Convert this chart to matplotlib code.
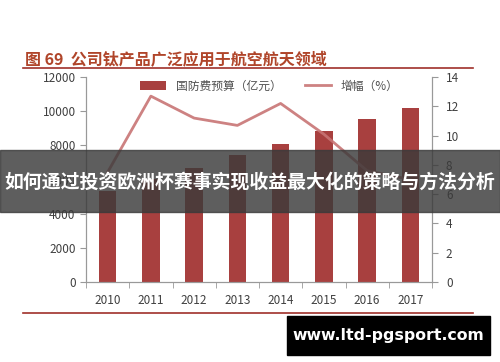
import matplotlib.pyplot as plt
import matplotlib.patches as mpatches
import numpy as np

plt.rcParams['font.family'] = ['Noto Sans CJK SC', 'DejaVu Sans']

years = ['2010', '2011', '2012', '2013', '2014', '2015', '2016', '2017']
budget = [5321, 6011, 6703, 7410, 8082, 8869, 9543, 10211]
growth = [7.5, 12.7, 11.2, 10.7, 12.2, 10.1, 7.6, 7.0]

fig = plt.figure(figsize=(5, 3.62), dpi=100)
ax = fig.add_axes([0.172, 0.221, 0.692, 0.566])
ax2 = ax.twinx()

x = np.arange(len(years))
bars = ax.bar(x, budget, width=0.4, color='#a8403f', label='国防费预算（亿元）', zorder=2)
line, = ax2.plot(x, growth, color='#c87474', lw=2, alpha=0.9, label='增幅（%）')

ax.set_xlim(-0.5, len(years) - 0.5)
ax.set_ylim(0, 12000)
ax.set_yticks(range(0, 12001, 2000))
ax2.set_ylim(0, 14)
ax2.set_yticks(range(0, 15, 2))
ax.set_xticks(x)
ax.set_xticklabels(years)
ax.set_xticks(np.arange(-0.5, len(years)), minor=True)
ax.tick_params(axis='x', which='major', length=0, pad=9)
ax.tick_params(axis='x', which='minor', length=4, color='#999999')

for a in (ax, ax2):
    a.tick_params(axis='y', labelsize=8.5, colors='#404040', length=4)
    a.tick_params(axis='y', color='#999999')
    for s in a.spines.values():
        s.set_color('#999999')
    a.spines['top'].set_visible(False)
ax.tick_params(axis='x', labelsize=8.5, labelcolor='#404040')
ax2.tick_params(axis='y', pad=6)

ax.legend(handles=[bars, line], loc='upper center', bbox_to_anchor=(0.53, 1.04),
          ncol=2, frameon=False, fontsize=8.5, labelcolor='#505050',
          handlelength=2.2, columnspacing=2.0)

# title and rules
fig.text(0.05, 0.834, '图 69  公司钛产品广泛应用于航空航天领域', fontsize=11.5,
         fontweight='bold', color='#b0452a', va='center')
fig.add_artist(plt.Line2D([0.046, 0.946], [0.812, 0.812], color='#a0302a', lw=1.2))
fig.add_artist(plt.Line2D([0.046, 0.946], [0.135, 0.135], color='#a0302a', lw=1.2))

# overlay banner
fig.add_artist(mpatches.Rectangle((0, 0.414), 1, 0.171, transform=fig.transFigure,
                                  color='#3a3a3a', alpha=0.82, zorder=10))
fig.text(0.5, 0.497, '如何通过投资欧洲杯赛事实现收益最大化的策略与方法分析', fontsize=13.6,
         fontweight='bold', color='white', ha='center', va='center', zorder=11)

# watermark
fig.add_artist(mpatches.Rectangle((0.574, 0.019), 0.406, 0.108, transform=fig.transFigure,
                                  color='black', zorder=10))
fig.text(0.777, 0.073, 'www.ltd-pgsport.com', fontsize=11.3, fontweight='bold',
         color='white', ha='center', va='center', family='DejaVu Sans', zorder=11)

fig.savefig('out.png', dpi=100)
